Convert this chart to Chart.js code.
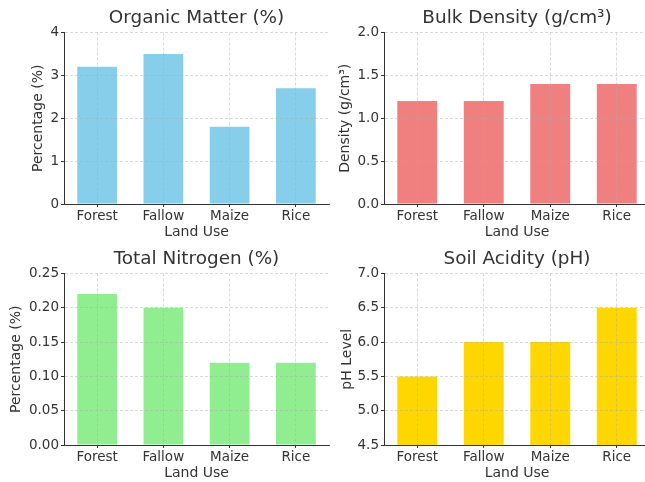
<!DOCTYPE html>
<html lang="en">
<head>
  <meta charset="UTF-8" />
  <title>Soil Properties by Land Use</title>
  <script src="https://cdn.jsdelivr.net/npm/chart.js"></script>
  <style>
    html, body { margin: 0; padding: 0; background: #fff; width: 645px; height: 482px; overflow: hidden; position: relative; }
    canvas { position: absolute; }
  </style>
</head>
<body>
  <canvas id="om"></canvas>
  <canvas id="bd"></canvas>
  <canvas id="tn"></canvas>
  <canvas id="ph"></canvas>

  <script>
    // data
    const landUse = ['Forest', 'Fallow', 'Maize', 'Rice'];
    const organicMatter = [3.2, 3.5, 1.8, 2.7];
    const bulkDensity = [1.2, 1.2, 1.4, 1.4];
    const totalNitrogen = [0.22, 0.20, 0.12, 0.12];
    const soilPH = [5.5, 6.0, 6.0, 6.5];

    const omTicks = ['0', '1', '2', '3', '4'];
    const bdTicks = ['0.0', '0.5', '1.0', '1.5', '2.0'];
    const tnTicks = ['0.00', '0.05', '0.10', '0.15', '0.20', '0.25'];
    const phTicks = ['4.5', '5.0', '5.5', '6.0', '6.5', '7.0'];

    Chart.defaults.font.family = '"DejaVu Sans", sans-serif';
    Chart.defaults.color = '#333';

    const TEXT = '#333';
    const GRID = 'rgba(170,170,170,0.55)';

    // each canvas is centred on its plot area so the title sits over the plot like matplotlib;
    // an empty right-hand axis eats the spare width so the title box stays full width
    function makePanel(id, box, title, yLabel, values, yTicks, color) {
      const cv = document.getElementById(id);
      cv.width = box.w;
      cv.height = box.h;
      cv.style.left = box.x + 'px';
      cv.style.top = box.y + 'px';

      new Chart(cv, {
        type: 'bar',
        data: {
          labels: landUse,
          datasets: [{
            data: values,
            backgroundColor: color,
            borderWidth: 0,
            barPercentage: 0.6,
            categoryPercentage: 1.0
          }]
        },
        options: {
          responsive: false,
          animation: false,
          devicePixelRatio: 1,
          layout: { padding: 0 },
          plugins: {
            legend: { display: false },
            tooltip: { enabled: false },
            title: {
              display: true,
              text: title,
              color: TEXT,
              font: { size: 18.4, weight: 'normal' },
              padding: { top: 7, bottom: 3.4 }
            }
          },
          scales: {
            x: {
              offset: true,
              afterFit: s => { s.height = box.h - 204; },
              grid: {
                offset: false,
                color: GRID,
                lineWidth: 0.8,
                z: 1,
                tickLength: 3,
                tickColor: TEXT,
                tickWidth: 1
              },
              border: { color: TEXT, width: 1, dash: [3, 2], z: 2 },
              ticks: { color: TEXT, font: { size: 13.5 }, padding: 1, autoSkip: false, maxRotation: 0 },
              title: { display: true, text: 'Land Use', color: TEXT, font: { size: 14 }, padding: { top: 0, bottom: 0 } }
            },
            y: {
              min: +yTicks[0],
              max: +yTicks[yTicks.length - 1],
              afterFit: s => { s.width = box.yw; },
              afterBuildTicks: s => { s.ticks = yTicks.map(t => ({ value: +t })); },
              grid: {
                color: GRID,
                lineWidth: 0.8,
                z: 1,
                tickLength: 3,
                tickColor: TEXT,
                tickWidth: 1
              },
              border: { color: TEXT, width: 1, dash: [3, 2], z: 2 },
              ticks: {
                color: TEXT,
                font: { size: 13.5 },
                padding: 2,
                callback: (v, i) => yTicks[i]
              },
              title: { display: true, text: yLabel, color: TEXT, font: { size: 14 }, padding: { top: box.tPad, bottom: 0 } }
            },
            spacer: {
              type: 'linear',
              position: 'right',
              afterFit: s => { s.width = box.yw; },
              grid: { display: false, drawTicks: false },
              border: { display: false },
              ticks: { display: false }
            }
          }
        }
      });
    }

    makePanel('om', { x: 20, y: 0, w: 353, h: 241, yw: 44, tPad: 9.5 },
      'Organic Matter (%)', 'Percentage (%)', organicMatter, omTicks, '#87CEEB');
    makePanel('bd', { x: 335, y: 0, w: 364, h: 241, yw: 49, tPad: 1.5 },
      'Bulk Density (g/cm³)', 'Density (g/cm³)', bulkDensity, bdTicks, '#F08080');
    makePanel('tn', { x: 5, y: 241, w: 383, h: 241, yw: 59, tPad: 3 },
      'Total Nitrogen (%)', 'Percentage (%)', totalNitrogen, tnTicks, '#90EE90');
    makePanel('ph', { x: 335, y: 241, w: 364, h: 241, yw: 49, tPad: 3.5 },
      'Soil Acidity (pH)', 'pH Level', soilPH, phTicks, '#FFD700');
  </script>
</body>
</html>
